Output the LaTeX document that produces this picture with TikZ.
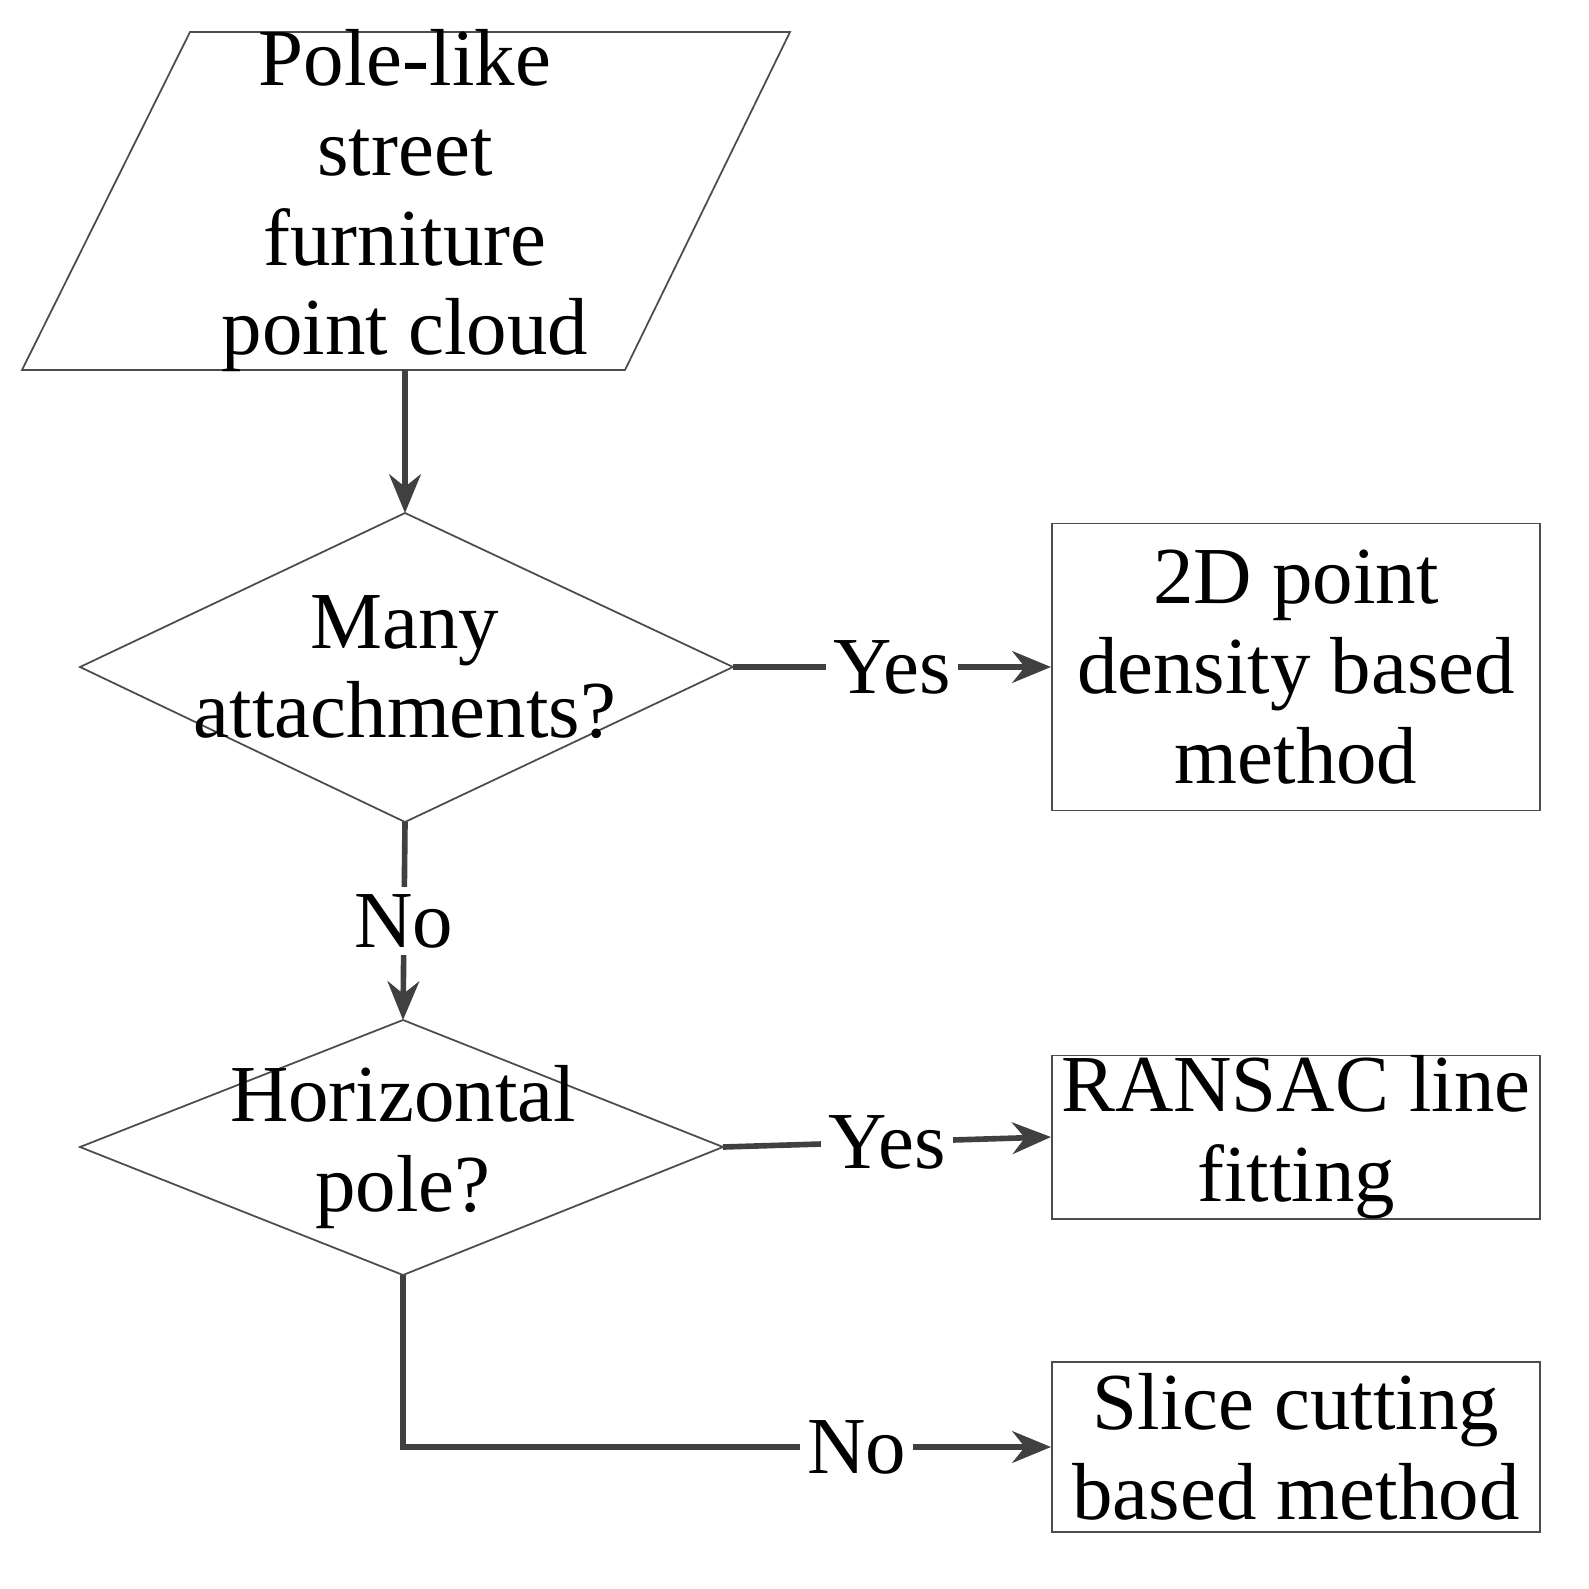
\documentclass[tikz,border=0pt]{standalone}
\usepackage{fontspec}
\setmainfont{Liberation Serif}
\usetikzlibrary{positioning,arrows.meta}
\definecolor{linegray}{RGB}{64,64,64}
\tikzset{
  shapeline/.style={draw=black!70, line width=0.5pt},
  txt/.style={align=center, font=\fontsize{23}{25.5}\selectfont, inner sep=0pt},
  flow/.style={draw=linegray, line width=1.6pt, -{Stealth[length=11pt,width=9pt]}},
  lab/.style={txt, fill=white, inner sep=2pt}
}
\begin{document}
\begin{tikzpicture}[x=0.01cm,y=-0.01cm]
\useasboundingbox (0,0) rectangle (1589,1589);

% input
\draw [shapeline] (190,32) -- (790,32) -- (625,370) -- (22,370) -- cycle;
\node [txt] (input) at (405,201) {Pole-like\\street\\furniture\\point cloud};
\coordinate (inputS) at (405,370);

% first decision
\draw [shapeline] (405,513) -- (733,667) -- (405,822) -- (80,667) -- cycle;
\node [txt] (many) at (405,667) {Many\\attachments?};
\coordinate (manyN) at (405,513);
\coordinate (manyE) at (733,667);
\coordinate (manyS) at (405,822);

% second decision
\draw [shapeline] (403,1020) -- (723,1147) -- (403,1275) -- (80,1147) -- cycle;
\node [txt] (horiz) at (403,1147) {Horizontal\\pole?};
\coordinate (horizN) at (403,1020);
\coordinate (horizE) at (723,1147);
\coordinate (horizS) at (403,1275);

% methods
\node [txt, shapeline, minimum width=4.88cm, minimum height=2.87cm] (density) at (1296,667) {2D point\\density based\\method};
\node [txt, shapeline, minimum width=4.88cm, minimum height=1.6cm] (ransac) at (1296,1137) {RANSAC line\\fitting};
\node [txt, shapeline, minimum width=4.88cm, minimum height=1.7cm] (slice) at (1296,1447) {Slice cutting\\based method};

% connectors
\draw [flow] (inputS) -- (manyN);
\draw [flow] (manyE) -- node [lab] {Yes} (density.west);
\draw [flow] (manyS) -- node [lab] {No} (horizN);
\draw [flow] (horizE) -- node [lab] {Yes} (ransac.west);
\coordinate (bend) at (403,1447);
\draw [flow] (horizS) -- (bend) -- node [lab, pos=0.7] {No} (slice.west);
\end{tikzpicture}
\end{document}
